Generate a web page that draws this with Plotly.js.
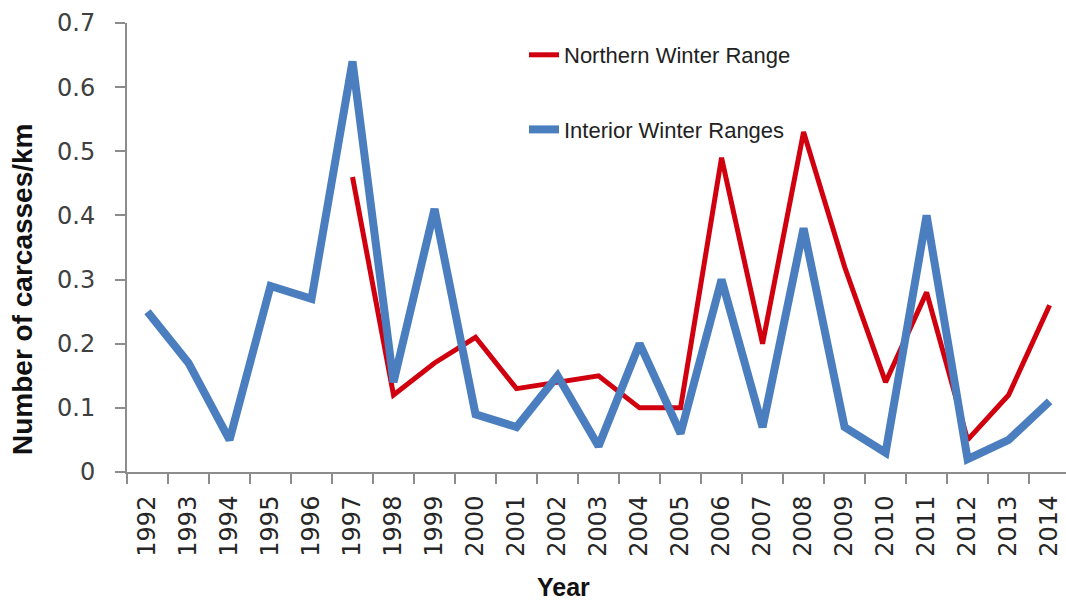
<!DOCTYPE html>
<html>
<head>
<meta charset="utf-8">
<script src="https://cdn.plot.ly/plotly-3.0.1.min.js"></script>
<style>html,body{margin:0;padding:0;background:#fff;}#chart{width:1066px;height:602px;}</style>
</head>
<body>
<div id="chart"></div>
<script>
const years = ["1992","1993","1994","1995","1996","1997","1998","1999","2000","2001","2002","2003","2004","2005","2006","2007","2008","2009","2010","2011","2012","2013","2014"];
const northernWinterRange = [null,null,null,null,null,0.46,0.12,0.17,0.21,0.13,0.14,0.15,0.10,0.10,0.49,0.20,0.53,0.32,0.14,0.28,0.05,0.12,0.26];
const interiorWinterRanges = [0.25,0.17,0.05,0.29,0.27,0.64,0.14,0.41,0.09,0.07,0.15,0.04,0.20,0.06,0.30,0.07,0.38,0.07,0.03,0.40,0.02,0.05,0.11];
const seriesNames = ["Northern Winter Range","Interior Winter Ranges"];
const yTitle = "Number of carcasses/km";
const xTitle = "Year";

const traces = [
  {x: years, y: northernWinterRange, name: seriesNames[0], type: "scatter", mode: "lines",
   line: {color: "#d0000f", width: 5}, legendgroup: "a", hoverinfo: "skip"},
  {x: years, y: interiorWinterRanges, name: seriesNames[1], type: "scatter", mode: "lines",
   line: {color: "#4a7ebf", width: 8}, legendgroup: "b", hoverinfo: "skip"}
];

const axisColor = "#8c8c8c";
const layout = {
  width: 1066, height: 602,
  margin: {l: 127, r: 0, t: 23, b: 130},
  paper_bgcolor: "#ffffff", plot_bgcolor: "#ffffff",
  showlegend: true,
  legend: {x: (524-127)/939, xanchor: "left", y: (472-34)/449, yanchor: "top",
           font: {family: "Liberation Sans, Arial, sans-serif", size: 22, color: "#222222"},
           tracegroupgap: 43, bgcolor: "rgba(0,0,0,0)"},
  xaxis: {type: "category", range: [-0.5, 22.4], showgrid: false, zeroline: false,
          showline: true, linecolor: axisColor, linewidth: 2,
          ticks: "outside", tickson: "boundaries", ticklen: 10, tickcolor: axisColor, tickwidth: 2,
          tickangle: -90, ticklabelstandoff: 12,
          tickfont: {family: "DejaVu Sans, sans-serif", size: 24, color: "#262626"}},
  yaxis: {range: [0, 0.7], dtick: 0.1, showgrid: false, zeroline: false,
          showline: true, linecolor: axisColor, linewidth: 2,
          ticks: "outside", ticklen: 10, tickcolor: axisColor, tickwidth: 2,
          ticklabelstandoff: 15,
          tickfont: {family: "DejaVu Sans, sans-serif", size: 24, color: "#404040"}},
  annotations: [
    {text: "<b>" + yTitle + "</b>", xref: "paper", yref: "paper", x: (22-127)/939, y: (472-289)/449,
     xanchor: "center", yanchor: "middle", textangle: -90, showarrow: false,
     font: {family: "Liberation Sans, Arial, sans-serif", size: 28, color: "#111111"}},
    {text: "<b>" + xTitle + "</b>", xref: "paper", yref: "paper", x: (563-127)/939, y: -(587-472)/449,
     xanchor: "center", yanchor: "middle", showarrow: false,
     font: {family: "Liberation Sans, Arial, sans-serif", size: 25, color: "#111111"}}
  ]
};

Plotly.newPlot("chart", traces, layout, {displayModeBar: false, staticPlot: true});
</script>
</body>
</html>
